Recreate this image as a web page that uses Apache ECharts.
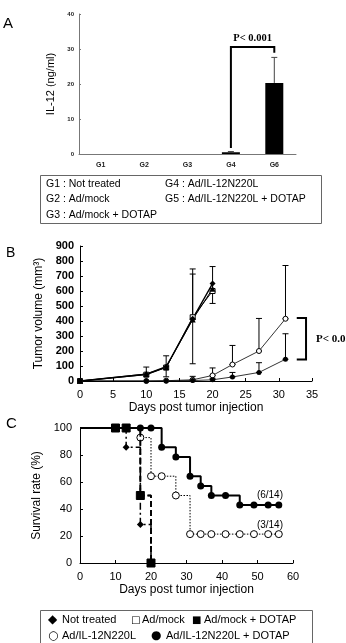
<!DOCTYPE html>
<html lang="en">
<head>
<meta charset="UTF-8">
<title>IL-12N220L figure</title>
<script src="https://cdn.jsdelivr.net/npm/echarts@6/dist/echarts.min.js"></script>
<style>html,body{margin:0;padding:0;background:#fff;}</style>
</head>
<body>
<div id="main" style="width:346px;height:643px;"></div>
<script>
// ---- panel A : IL-12 (ng/ml) ----
var groupsA = ['G1', 'G2', 'G3', 'G4', 'G6'];
var il12 = [0, 0, 0, 0.5, 20.3];
var il12Top = [0, 0, 0, 0.7, 27.6];          // top of error bar
var bracketA = [[3, 4, 30.6, 1.7, 28.9]];    // from cat, to cat, top, left end, right end
var legendA = ['G1 : Not treated', 'G2 : Ad/mock', 'G3 : Ad/mock + DOTAP',
               'G4 : Ad/IL-12N220L', 'G5 : Ad/IL-12N220L + DOTAP'];

// ---- panel B : tumor volume ----
var daysCtrl = [0, 10, 13, 17, 20];
var volNotTreated = [0, 45, 95, 415, 650];
var volMock = [0, 42, 90, 425, 600];
var volMockDotap = [0, 47, 92, 410, 615];
var daysIL = [0, 10, 13, 17, 20, 23, 27, 31];
var volIL = [0, 0, 2, 8, 37, 110, 200, 415];
var volILDotap = [0, 0, 0, 3, 8, 27, 57, 145];
// [day, low, high]
var volErr = [[10, 45, 93], [13, 28, 168], [17, 115, 747], [17, 410, 713], [20, 517, 763],
              [17, 8, 31], [20, 37, 87], [23, 110, 237], [27, 200, 417], [31, 415, 770],
              [20, 8, 18], [23, 27, 57], [27, 57, 122], [31, 145, 315]];
var bracketB = [[32.7, 34.1, 420, 143]];

// ---- panel C : survival ----
var daysShort = [0, 10, 13, 17, 20];
var survNotTreated = [100, 100, 85.7, 28.6, 0];
var survMock = [100, 100, 100, 50, 0];
var survMockDotap = [100, 100, 100, 50, 0];
var daysLong = [0, 10, 13, 17, 20, 23, 27, 31, 34, 37, 41, 45, 49, 53, 56];
var survIL = [100, 100, 100, 92.9, 64.3, 64.3, 50, 21.4, 21.4, 21.4, 21.4, 21.4, 21.4, 21.4, 21.4];
var survILDotap = [100, 100, 100, 100, 100, 85.7, 78.6, 64.3, 57.1, 50, 50, 42.9, 42.9, 42.9, 42.9];

// glyph, label, glyph x, label x, y, glyph size
var legendC = [
    ['◆', 'Not treated', 48, 62, 620, 12], ['□', 'Ad/mock', 131, 142, 620, 10], ['■', 'Ad/mock + DOTAP', 192, 204, 620, 10],
    ['○', 'Ad/IL-12N220L', 48, 62, 636, 12], ['●', 'Ad/IL-12N220L + DOTAP', 151, 166, 636, 12]
];

var sans = 'Liberation Sans';
var serif = 'Liberation Serif';

function pairs(xs, ys) {
    var out = [];
    for (var i = 0; i < xs.length; i++) out.push([xs[i], ys[i]]);
    return out;
}
// first point (day 0) has no marker in the survival plot
function survPairs(xs, ys) {
    var out = pairs(xs, ys);
    out[0] = {value: out[0], symbolSize: 0};
    return out;
}

function errorBar(params, api) {
    var lo = api.coord([api.value(0), api.value(1)]);
    var hi = api.coord([api.value(0), api.value(2)]);
    var w = 3, st = {stroke: '#000', lineWidth: 1};
    return {type: 'group', children: [
        {type: 'line', shape: {x1: lo[0], y1: lo[1], x2: hi[0], y2: hi[1]}, style: st},
        {type: 'line', shape: {x1: hi[0] - w, y1: hi[1], x2: hi[0] + w, y2: hi[1]}, style: st},
        {type: 'line', shape: {x1: lo[0] - w, y1: lo[1], x2: lo[0] + w, y2: lo[1]}, style: st}
    ]};
}

var axisLine = {lineStyle: {color: '#000', width: 1}};
var tickLbl = {fontFamily: sans, fontSize: 11, color: '#000'};

var myChart = echarts.init(document.getElementById('main'));
var option = {
    backgroundColor: '#fff',
    animation: false,
    grid: [
        {left: 79, right: 50, top: 14, height: 140},
        {left: 80, right: 34, top: 246, height: 135},
        {left: 80, right: 53, top: 428, height: 135}
    ],
    xAxis: [
        {gridIndex: 0, type: 'category', data: groupsA,
         axisLine: {lineStyle: {color: '#777'}}, axisTick: {inside: true, length: 2, lineStyle: {color: '#777'}},
         axisLabel: {fontFamily: sans, fontSize: 7, fontWeight: 'bold', color: '#222', margin: 8}},
        {gridIndex: 1, type: 'value', min: 0, max: 35, interval: 5, splitLine: {show: false},
         axisLine: axisLine, axisTick: {inside: true, length: 3}, axisLabel: tickLbl,
         name: 'Days post tumor injection', nameLocation: 'middle', nameGap: 21,
         nameTextStyle: {fontFamily: sans, fontSize: 12, color: '#000'}},
        {gridIndex: 2, type: 'value', min: 0, max: 60, interval: 10, splitLine: {show: false},
         axisLine: axisLine, axisTick: {inside: true, length: 3}, axisLabel: tickLbl,
         name: 'Days post tumor injection', nameLocation: 'middle', nameGap: 21,
         nameTextStyle: {fontFamily: sans, fontSize: 12, color: '#000'}}
    ],
    yAxis: [
        {gridIndex: 0, type: 'value', min: 0, max: 40, interval: 10, splitLine: {show: false},
         axisLine: {show: true, lineStyle: {color: '#777'}}, axisTick: {show: true, inside: true, length: 2, lineStyle: {color: '#777'}},
         axisLabel: {fontFamily: sans, fontSize: 6, fontWeight: 'bold', color: '#222', margin: 5},
         name: 'IL-12 (ng/ml)', nameLocation: 'middle', nameGap: 18,
         nameTextStyle: {fontFamily: sans, fontSize: 11, color: '#000'}},
        {gridIndex: 1, type: 'value', min: 0, max: 900, interval: 100, splitLine: {show: false},
         axisLine: {show: true, lineStyle: {color: '#000'}}, axisTick: {show: true, inside: true, length: 3},
         axisLabel: {fontFamily: sans, fontSize: 11, color: '#000', fontWeight: 'bold', margin: 6},
         name: 'Tumor volume (mm³)', nameLocation: 'middle', nameGap: 28,
         nameTextStyle: {fontFamily: sans, fontSize: 12, color: '#000'}},
        {gridIndex: 2, type: 'value', min: 0, max: 100, interval: 20, splitLine: {show: false},
         axisLine: {show: true, lineStyle: {color: '#000'}}, axisTick: {show: true, inside: true, length: 3},
         axisLabel: {fontFamily: sans, fontSize: 11, color: '#000', margin: 8},
         name: 'Survival rate (%)', nameLocation: 'middle', nameGap: 27,
         nameTextStyle: {fontFamily: sans, fontSize: 12, color: '#000'}}
    ],
    series: [
        // A
        {type: 'bar', xAxisIndex: 0, yAxisIndex: 0, data: il12, barWidth: 18,
         itemStyle: {color: '#000'}},
        {type: 'custom', xAxisIndex: 0, yAxisIndex: 0,
         data: il12Top.map(function (t, i) { return [i, il12[i], t]; }),
         renderItem: function (params, api) {
             if (api.value(2) <= api.value(1)) return;
             var lo = api.coord([api.value(0), api.value(1)]);
             var hi = api.coord([api.value(0), api.value(2)]);
             var st = {stroke: '#444', lineWidth: 1};
             return {type: 'group', children: [
                 {type: 'line', shape: {x1: lo[0], y1: lo[1], x2: hi[0], y2: hi[1]}, style: st},
                 {type: 'line', shape: {x1: hi[0] - 3, y1: hi[1], x2: hi[0] + 3, y2: hi[1]}, style: st}
             ]};
         }},
        {type: 'custom', xAxisIndex: 0, yAxisIndex: 0, data: bracketA,
         renderItem: function (params, api) {
             var a = api.coord([api.value(0), api.value(3)]);
             var b = api.coord([api.value(0), api.value(2)]);
             var c = api.coord([api.value(1), api.value(2)]);
             var d = api.coord([api.value(1), api.value(4)]);
             return {type: 'group', children: [
                 {type: 'polyline', shape: {points: [a, b, c, d]}, style: {stroke: '#000', lineWidth: 2, fill: null}},
                 {type: 'text', x: (b[0] + c[0]) / 2, y: b[1] - 3,
                  style: {text: 'P< 0.001', font: 'bold 10.5px ' + serif, fill: '#000', align: 'center', verticalAlign: 'bottom'}}
             ]};
         }},
        // B
        {name: 'Ad/mock', type: 'line', xAxisIndex: 1, yAxisIndex: 1, data: pairs(daysCtrl, volMock),
         symbol: 'rect', symbolSize: 5, lineStyle: {color: '#000', width: 1},
         itemStyle: {color: '#fff', borderColor: '#000', borderWidth: 1}},
        {name: 'Ad/mock + DOTAP', type: 'line', xAxisIndex: 1, yAxisIndex: 1, data: pairs(daysCtrl, volMockDotap),
         symbol: 'triangle', symbolSize: 6, lineStyle: {color: '#000', width: 1},
         itemStyle: {color: '#000'}},
        {name: 'Not treated', type: 'line', xAxisIndex: 1, yAxisIndex: 1, data: pairs(daysCtrl, volNotTreated),
         symbol: 'diamond', symbolSize: 6, lineStyle: {color: '#000', width: 1.5},
         itemStyle: {color: '#000'}},
        {name: 'Ad/IL-12N220L', type: 'line', xAxisIndex: 1, yAxisIndex: 1, data: pairs(daysIL, volIL),
         symbol: 'circle', symbolSize: 5, lineStyle: {color: '#000', width: 0.8},
         itemStyle: {color: '#fff', borderColor: '#000', borderWidth: 1}},
        {name: 'Ad/IL-12N220L + DOTAP', type: 'line', xAxisIndex: 1, yAxisIndex: 1, data: pairs(daysIL, volILDotap),
         symbol: 'circle', symbolSize: 5, lineStyle: {color: '#000', width: 0.8},
         itemStyle: {color: '#000'}},
        {type: 'custom', xAxisIndex: 1, yAxisIndex: 1, data: volErr, renderItem: errorBar, z: 1},
        {type: 'custom', xAxisIndex: 1, yAxisIndex: 1, data: bracketB, clip: false,
         renderItem: function (params, api) {
             var a = api.coord([api.value(0), api.value(2)]);
             var b = api.coord([api.value(1), api.value(2)]);
             var c = api.coord([api.value(1), api.value(3)]);
             var d = api.coord([api.value(0), api.value(3)]);
             return {type: 'group', children: [
                 {type: 'polyline', shape: {points: [a, b, c, d]}, style: {stroke: '#000', lineWidth: 2, fill: null}},
                 {type: 'text', x: b[0] + 10, y: (b[1] + c[1]) / 2,
                  style: {text: 'P< 0.05', font: 'bold 11px ' + serif, fill: '#000', align: 'left', verticalAlign: 'middle'}}
             ]};
         }},
        // C
        {name: 'Not treated', type: 'line', step: 'end', xAxisIndex: 2, yAxisIndex: 2,
         data: survPairs(daysShort, survNotTreated), symbol: 'diamond', symbolSize: 7, z: 3,
         lineStyle: {color: '#000', width: 1.5, type: [7, 3, 2, 3]}, itemStyle: {color: '#000'}},
        {name: 'Ad/mock', type: 'line', step: 'end', xAxisIndex: 2, yAxisIndex: 2,
         data: survPairs(daysShort, survMock), symbol: 'rect', symbolSize: 8, z: 2,
         lineStyle: {color: '#000', width: 1.5, type: [6, 3]},
         itemStyle: {color: '#fff', borderColor: '#000', borderWidth: 1}},
        {name: 'Ad/mock + DOTAP', type: 'line', step: 'end', xAxisIndex: 2, yAxisIndex: 2,
         data: survPairs(daysShort, survMockDotap), symbol: 'rect', symbolSize: 8, z: 4,
         lineStyle: {color: '#000', width: 1.8, type: [6, 3]}, itemStyle: {color: '#000'}},
        {name: 'Ad/IL-12N220L', type: 'line', step: 'end', xAxisIndex: 2, yAxisIndex: 2,
         data: survPairs(daysLong, survIL), symbol: 'circle', symbolSize: 7, z: 2,
         lineStyle: {color: '#000', width: 1, type: [1.5, 1.5]},
         itemStyle: {color: '#fff', borderColor: '#000', borderWidth: 1}},
        {name: 'Ad/IL-12N220L + DOTAP', type: 'line', step: 'end', xAxisIndex: 2, yAxisIndex: 2,
         data: survPairs(daysLong, survILDotap), symbol: 'circle', symbolSize: 7, z: 3,
         lineStyle: {color: '#000', width: 2}, itemStyle: {color: '#000'}}
    ],
    graphic: [
        {type: 'text', x: 3, y: 24, style: {text: 'A', font: '15px ' + sans, fill: '#000', verticalAlign: 'middle'}},
        {type: 'text', x: 6, y: 253, style: {text: 'B', font: '14px ' + sans, fill: '#000', verticalAlign: 'middle'}},
        {type: 'text', x: 6, y: 424, style: {text: 'C', font: '15px ' + sans, fill: '#000', verticalAlign: 'middle'}},
        // legend box A
        {type: 'rect', shape: {x: 40.5, y: 175.5, width: 281, height: 48}, style: {fill: null, stroke: '#666', lineWidth: 1}},
        {type: 'text', x: 46, y: 184, style: {text: legendA[0], font: '10.5px ' + sans, fill: '#000', verticalAlign: 'middle'}},
        {type: 'text', x: 46, y: 199, style: {text: legendA[1], font: '10.5px ' + sans, fill: '#000', verticalAlign: 'middle'}},
        {type: 'text', x: 46, y: 215, style: {text: legendA[2], font: '10.5px ' + sans, fill: '#000', verticalAlign: 'middle'}},
        {type: 'text', x: 165, y: 184, style: {text: legendA[3], font: '10.5px ' + sans, fill: '#000', verticalAlign: 'middle'}},
        {type: 'text', x: 165, y: 199, style: {text: legendA[4], font: '10.5px ' + sans, fill: '#000', verticalAlign: 'middle'}},
        // survival fractions
        {type: 'text', x: 283, y: 495, style: {text: '(6/14)', font: '10px ' + sans, fill: '#000', align: 'right', verticalAlign: 'middle'}},
        {type: 'text', x: 283, y: 525, style: {text: '(3/14)', font: '10px ' + sans, fill: '#000', align: 'right', verticalAlign: 'middle'}},
        // legend box C
        {type: 'rect', shape: {x: 40.5, y: 610.5, width: 272, height: 40}, style: {fill: null, stroke: '#666', lineWidth: 1}}
    ].concat(legendC.map(function (it) {
        return {type: 'text', x: it[2], y: it[4], style: {text: it[0], font: it[5] + 'px DejaVu Sans', fill: '#000', verticalAlign: 'middle'}};
    })).concat(legendC.map(function (it) {
        return {type: 'text', x: it[3], y: it[4], style: {text: it[1], font: '11px ' + sans, fill: '#000', verticalAlign: 'middle'}};
    }))
};
myChart.setOption(option);
</script>
</body>
</html>
